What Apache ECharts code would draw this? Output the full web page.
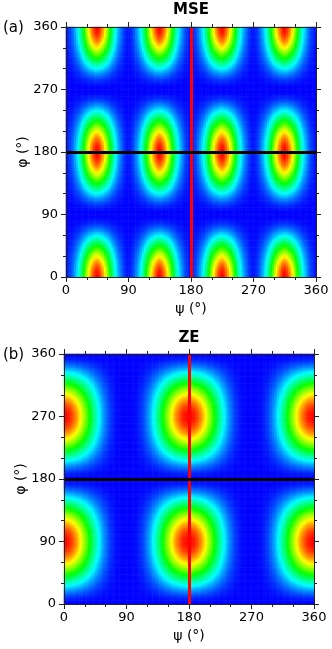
<!DOCTYPE html>
<html>
<head>
<meta charset="utf-8">
<script src="https://cdn.jsdelivr.net/npm/echarts@6/dist/echarts.min.js"></script>
<style>
html, body { margin: 0; padding: 0; background: #fff; }
#main { width: 332px; height: 649px; }
</style>
</head>
<body>
<div id="main"></div>
<script>
// angle axes (degrees)
var angleMin = 0, angleMax = 360, tickStep = 90;
var crossPsi = 180, crossPhi = 180;   // red / black guide lines

// profiles, 2.5 deg cells (values at cell centres), one period each
// MSE, psi direction: period 90, peaks at 45
var msePsiPeriod = [0.020,0.040,0.060,0.090,0.130,0.170,0.220,0.280,0.350,0.430,0.520,0.610,0.700,0.780,0.850,0.910,0.960,0.995,
    0.995,0.960,0.910,0.850,0.780,0.700,0.610,0.520,0.430,0.350,0.280,0.220,0.170,0.130,0.090,0.060,0.040,0.020];
// MSE, phi direction: period 180, peaks at 0 / 180
var msePhiPeriod = [1.000,0.996,0.988,0.977,0.962,0.944,0.922,0.897,0.869,0.838,0.804,0.769,0.731,0.691,0.650,0.608,0.565,0.522,
    0.478,0.435,0.392,0.350,0.309,0.269,0.231,0.196,0.162,0.131,0.103,0.078,0.057,0.038,0.023,0.012,0.004,0.001,
    0.001,0.004,0.012,0.023,0.038,0.057,0.078,0.103,0.131,0.162,0.196,0.231,0.269,0.309,0.350,0.392,0.435,0.478,
    0.522,0.565,0.608,0.650,0.691,0.731,0.769,0.804,0.838,0.869,0.897,0.922,0.944,0.962,0.977,0.988,0.996,1.000];
// ZE, psi direction: period 180, peaks at 0 / 180
var zePsiPeriod = [0.999,0.994,0.982,0.966,0.944,0.916,0.885,0.849,0.810,0.767,0.721,0.674,0.625,0.575,0.525,0.474,0.425,0.377,
    0.331,0.287,0.245,0.207,0.171,0.140,0.111,0.087,0.065,0.048,0.033,0.022,0.013,0.007,0.004,0.001,0.000,0.000,
    0.000,0.000,0.001,0.004,0.007,0.013,0.022,0.033,0.048,0.065,0.087,0.111,0.140,0.171,0.207,0.245,0.287,0.331,
    0.377,0.425,0.474,0.525,0.575,0.625,0.674,0.721,0.767,0.810,0.849,0.885,0.916,0.944,0.966,0.982,0.994,0.999];
// ZE, phi direction: period 180, peaks at 90
var zePhiPeriod = [0.002,0.010,0.023,0.041,0.062,0.087,0.115,0.145,0.178,0.213,0.250,0.288,0.328,0.368,0.409,0.451,0.493,0.534,
    0.575,0.616,0.655,0.694,0.731,0.766,0.800,0.831,0.860,0.887,0.912,0.933,0.952,0.968,0.980,0.990,0.996,1.000,
    1.000,0.996,0.990,0.980,0.968,0.952,0.933,0.912,0.887,0.860,0.831,0.800,0.766,0.731,0.694,0.655,0.616,0.575,
    0.534,0.493,0.451,0.409,0.368,0.328,0.288,0.250,0.213,0.178,0.145,0.115,0.087,0.062,0.041,0.023,0.010,0.002];

var rainbow = ['#0000ff', '#00ffff', '#00ff00', '#ffff00', '#ff0000'];

function tile(arr, n) {
    var out = [];
    for (var k = 0; k < n; k++) out = out.concat(arr);
    return out;
}
function buildCells(psiProf, phiProf) {
    var out = [];
    for (var i = 0; i < psiProf.length; i++) {
        for (var j = 0; j < phiProf.length; j++) {
            out.push([i, j, psiProf[i] * phiProf[j]]);
        }
    }
    return out;
}

var msePsi = tile(msePsiPeriod, 4), msePhi = tile(msePhiPeriod, 2);
var zePsi = tile(zePsiPeriod, 2), zePhi = tile(zePhiPeriod, 2);
var cellIdx = [];
for (var c = 0; c < msePsi.length; c++) cellIdx.push(c);

var font = 'DejaVu Sans';
var tickColor = '#222';

function catAxis(g) {
    return {type: 'category', gridIndex: g, data: cellIdx, show: false, boundaryGap: true};
}
function valAxis(g, pos, withLabel, name, isY) {
    var ax = {
        type: 'value', gridIndex: g, position: pos, min: angleMin, max: angleMax, interval: tickStep,
        z: 5,
        axisLine: {show: true, onZero: false, lineStyle: {color: tickColor, width: 1}},
        axisTick: {show: true, inside: false, length: 5, lineStyle: {color: tickColor}},
        minorTick: {show: true, splitNumber: 3, length: 3, lineStyle: {color: tickColor}},
        splitLine: {show: false},
        axisLabel: {show: withLabel, color: '#000', fontFamily: font, fontSize: 13, margin: isY ? 8 : 7}
    };
    if (name) {
        ax.name = name;
        ax.nameLocation = 'middle';
        ax.nameMoveOverlap = false;
        ax.nameTextStyle = {color: '#000', fontFamily: font, fontSize: 14};
        if (isY) {
            ax.nameRotate = 90;
            ax.nameGap = 36;
        } else {
            ax.nameGap = 25;
        }
    }
    return ax;
}
// one guide line per series so the black one is drawn above the red one
function guide(xi, yi, item, color, z) {
    item.lineStyle = {color: color, width: 3, type: 'solid'};
    return {
        type: 'line', xAxisIndex: xi, yAxisIndex: yi, data: [], z: z,
        markLine: {silent: true, symbol: ['none', 'none'], label: {show: false}, animation: false, data: [item]}
    };
}

var myChart = echarts.init(document.getElementById('main'));
myChart.setOption({
    animation: false,
    backgroundColor: '#fff',
    grid: [
        {left: 66, top: 27, width: 250, height: 250},
        {left: 64, top: 354, width: 250, height: 250}
    ],
    xAxis: [
        catAxis(0), valAxis(0, 'bottom', true, 'ψ (°)', false), valAxis(0, 'top', false),
        catAxis(1), valAxis(1, 'bottom', true, 'ψ (°)', false), valAxis(1, 'top', false)
    ],
    yAxis: [
        catAxis(0), valAxis(0, 'left', true, 'φ (°)', true), valAxis(0, 'right', false, null, true),
        catAxis(1), valAxis(1, 'left', true, 'φ (°)', true), valAxis(1, 'right', false, null, true)
    ],
    visualMap: {
        type: 'continuous', show: false, min: 0, max: 1, seriesIndex: [0, 1],
        inRange: {color: rainbow}
    },
    graphic: [
        {type: 'text', x: 191, y: 10, style: {text: 'MSE', fill: '#000', font: 'bold 15px "DejaVu Sans"', align: 'center', verticalAlign: 'middle'}},
        {type: 'text', x: 189, y: 338, style: {text: 'ZE', fill: '#000', font: 'bold 15px "DejaVu Sans"', align: 'center', verticalAlign: 'middle'}},
        {type: 'text', x: 3, y: 28, style: {text: '(a)', fill: '#000', font: '15px "DejaVu Sans"', align: 'left', verticalAlign: 'middle'}},
        {type: 'text', x: 3, y: 355, style: {text: '(b)', fill: '#000', font: '15px "DejaVu Sans"', align: 'left', verticalAlign: 'middle'}}
    ],
    series: [
        {type: 'heatmap', xAxisIndex: 0, yAxisIndex: 0, data: buildCells(msePsi, msePhi), progressive: 0, emphasis: {disabled: true}},
        {type: 'heatmap', xAxisIndex: 3, yAxisIndex: 3, data: buildCells(zePsi, zePhi), progressive: 0, emphasis: {disabled: true}},
        guide(1, 1, {xAxis: crossPsi}, '#ff0000', 3),
        guide(1, 1, {yAxis: crossPhi}, '#000000', 4),
        guide(4, 4, {xAxis: crossPsi}, '#ff0000', 3),
        guide(4, 4, {yAxis: crossPhi}, '#000000', 4)
    ]
});
</script>
</body>
</html>
